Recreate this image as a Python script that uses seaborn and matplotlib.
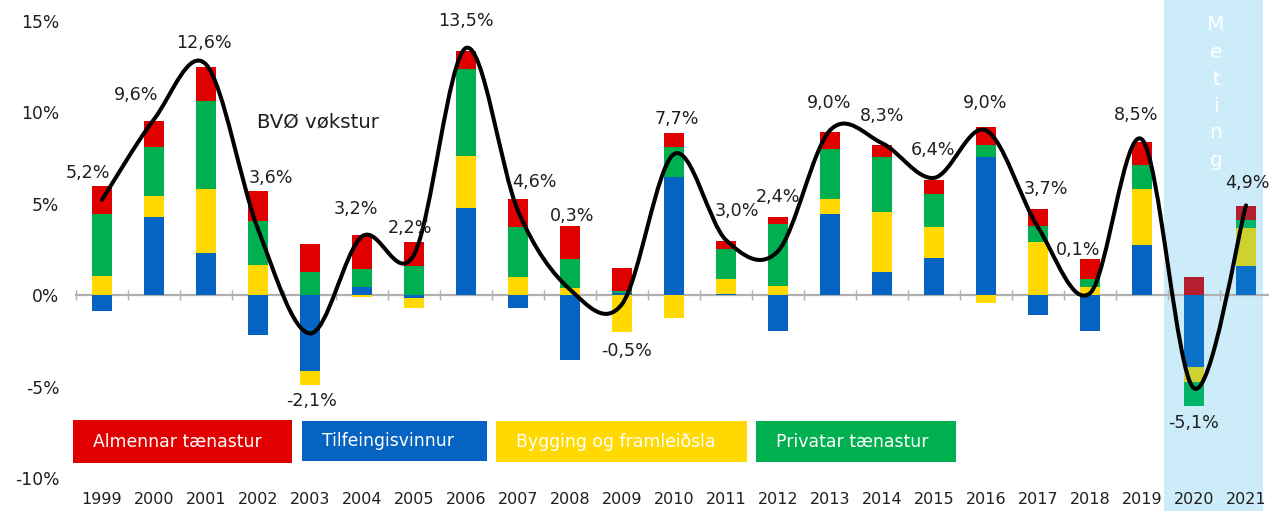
import numpy as np
import matplotlib
matplotlib.use("Agg")
import matplotlib.pyplot as plt
from matplotlib.path import Path
from matplotlib.patches import PathPatch, Rectangle
import seaborn as sns

# ---- data: sector contributions to GDP growth (percentage points) ----
years = [str(y) for y in range(1999, 2022)]
tilfeingisvinnur = [-0.87, 4.24, 2.32, -2.17, -4.13, 0.42, -0.15, 4.78, -0.71, -3.55, 0.10, 6.45,
                    0.05, -1.94, 4.40, 1.25, 2.01, 7.54, -1.09, -1.94, 2.72, -3.93, 1.58]
bygging = [1.03, 1.16, 3.46, 1.63, -0.80, -0.10, -0.57, 2.82, 0.98, 0.36, -2.03, -1.27,
           0.82, 0.49, 0.83, 3.30, 1.69, -0.42, 2.88, 0.43, 3.06, -0.84, 2.06]
privatar = [3.37, 2.68, 4.82, 2.39, 1.25, 0.99, 1.58, 4.77, 2.72, 1.60, 0.12, 1.63,
            1.63, 3.37, 2.76, 2.99, 1.84, 0.67, 0.91, 0.44, 1.30, -1.30, 0.47]
almennar = [1.54, 1.43, 1.88, 1.67, 1.54, 1.85, 1.30, 0.98, 1.53, 1.81, 1.28, 0.76,
            0.45, 0.38, 0.92, 0.67, 0.76, 0.99, 0.90, 1.09, 1.29, 0.96, 0.74]
bvo_growth = [5.2, 9.6, 12.6, 3.6, -2.1, 3.2, 2.2, 13.5, 4.6, 0.3, -0.5, 7.7,
              3.0, 2.4, 9.0, 8.3, 6.4, 9.0, 3.7, 0.1, 8.5, -5.1, 4.9]
forecast_years = ["2020", "2021"]

series = {
    "Tilfeingisvinnur": tilfeingisvinnur,
    "Bygging og framleiðsla": bygging,
    "Privatar tænastur": privatar,
    "Almennar tænastur": almennar,
}
legend_order = ["Almennar tænastur", "Tilfeingisvinnur", "Bygging og framleiðsla", "Privatar tænastur"]

colors = dict(zip(series, sns.color_palette(["#0563c1", "#ffd900", "#00b050", "#e00000"])))
forecast_colors = dict(zip(series, sns.color_palette(["#0a70c8", "#cfd22e", "#00b468", "#b31f2e"])))

# label placement relative to each point on the growth line (pixels)
label_offsets = [(-14.5, 26.5), (-18, 24), (-2.5, 21), (13, 51), (2, -68), (-6, 27), (-4, 27),
                 (0, 27), (16, 29), (2.5, 74), (5, -47), (2.5, 35), (11, 29), (0, 54),
                 (-1, 27), (0, 27), (-1, 28), (-1, 27), (8, 38), (-12, 43), (-6, 24.5),
                 (0, -35), (1.5, 22.6)]

# ---- styling ----
sns.set_theme(style="white")
plt.rcParams["font.family"] = ["DejaVu Sans"]
text_color = "#1f1f1f"

W, H = 1269, 511
fig = plt.figure(figsize=(W / 100, H / 100), dpi=100)
fig.patch.set_facecolor("white")
ax = fig.add_axes([76 / W, 1 - 478 / H, (1272 - 76) / W, (478 - 20.5) / H])
ax.set_facecolor("none")

# forecast band behind everything
fig.add_artist(Rectangle((1164 / W, 0), (1263 - 1164) / W, 1, transform=fig.transFigure,
                         facecolor="#cdecf9", edgecolor="none", zorder=-1))

x = np.arange(len(years))
is_forecast = np.array([y in forecast_years for y in years])

# stacked bars: positives stack upward, negatives downward
pos_base = np.zeros(len(years))
neg_base = np.zeros(len(years))
for name, vals in series.items():
    v = np.asarray(vals)
    bottom = np.where(v >= 0, pos_base, neg_base)
    bar_colors = [forecast_colors[name] if f else colors[name] for f in is_forecast]
    ax.bar(x, v, bottom=bottom, width=0.4, color=bar_colors, edgecolor="none", zorder=2)
    pos_base = pos_base + np.where(v >= 0, v, 0)
    neg_base = neg_base + np.where(v < 0, v, 0)

# smoothed growth line (Catmull-Rom segments as cubic Beziers)
pts = np.column_stack([x, bvo_growth]).astype(float)
n = len(pts)
verts = [pts[0]]
codes = [Path.MOVETO]
for i in range(n - 1):
    p0 = pts[max(i - 1, 0)]
    p1 = pts[i]
    p2 = pts[i + 1]
    p3 = pts[min(i + 2, n - 1)]
    verts += [p1 + (p2 - p0) / 6, p2 - (p3 - p1) / 6, p2]
    codes += [Path.CURVE4] * 3
ax.add_patch(PathPatch(Path(verts, codes), facecolor="none", edgecolor="black",
                       lw=2.9, capstyle="round", joinstyle="round", zorder=4))

for xi, val, (dx, dy) in zip(x, bvo_growth, label_offsets):
    ax.annotate(f"{val:.1f}".replace(".", ",") + "%", (xi, val), xytext=(dx, dy),
                textcoords="offset pixels", ha="center", va="center",
                fontsize=12.6, color=text_color, zorder=5)

# axes, ticks
ax.set_xlim(-0.5, len(years) - 0.5)
ax.set_ylim(-10, 15)
yt = [15, 10, 5, 0, -5, -10]
ax.set_yticks(yt, [f"{t}%" for t in yt])
ax.set_xticks(x, years)
ax.tick_params(axis="y", length=0, pad=12, labelsize=12.3, labelcolor=text_color)
ax.tick_params(axis="x", length=0, pad=10, labelsize=11.5, labelcolor=text_color)
for s in ax.spines.values():
    s.set_visible(False)
ax.grid(False)

# category axis line drawn through zero
zero_axis = ax.secondary_xaxis(10 / 25)
zero_axis.set_xticks(np.arange(-0.5, len(years), 1.0), [""] * (len(years) + 1))
zero_axis.tick_params(axis="x", direction="inout", length=7, width=1, color="#b0b0b0")
for s in zero_axis.spines.values():
    s.set_color("#b0b0b0")
    s.set_linewidth(1.6)
zero_axis.set_zorder(1)

# legend as coloured boxes
boxes = [(73, 420, 292, 463), (302, 421, 487, 461), (496, 421, 747, 462), (756, 421, 956, 462)]
for name, (x0, y0, x1, y1) in zip(legend_order, boxes):
    fig.add_artist(Rectangle((x0 / W, 1 - y1 / H), (x1 - x0) / W, (y1 - y0) / H,
                             transform=fig.transFigure, facecolor=colors[name],
                             edgecolor="none", zorder=3))
    fig.text((x0 + 20) / W, 1 - (y0 + y1) / 2 / H, name, color="white", fontsize=12.4,
             ha="left", va="center", zorder=4)

fig.text(257 / W, 1 - 122 / H, "BVØ vøkstur", fontsize=14.2, color=text_color,
         ha="left", va="center")

for k, ch in enumerate("Meting"):
    fig.text(1216 / W, 1 - (25 + 27 * k) / H, ch, color="white", fontsize=14.5,
             ha="center", va="center", zorder=2)

fig.savefig("out.png", dpi=100)
